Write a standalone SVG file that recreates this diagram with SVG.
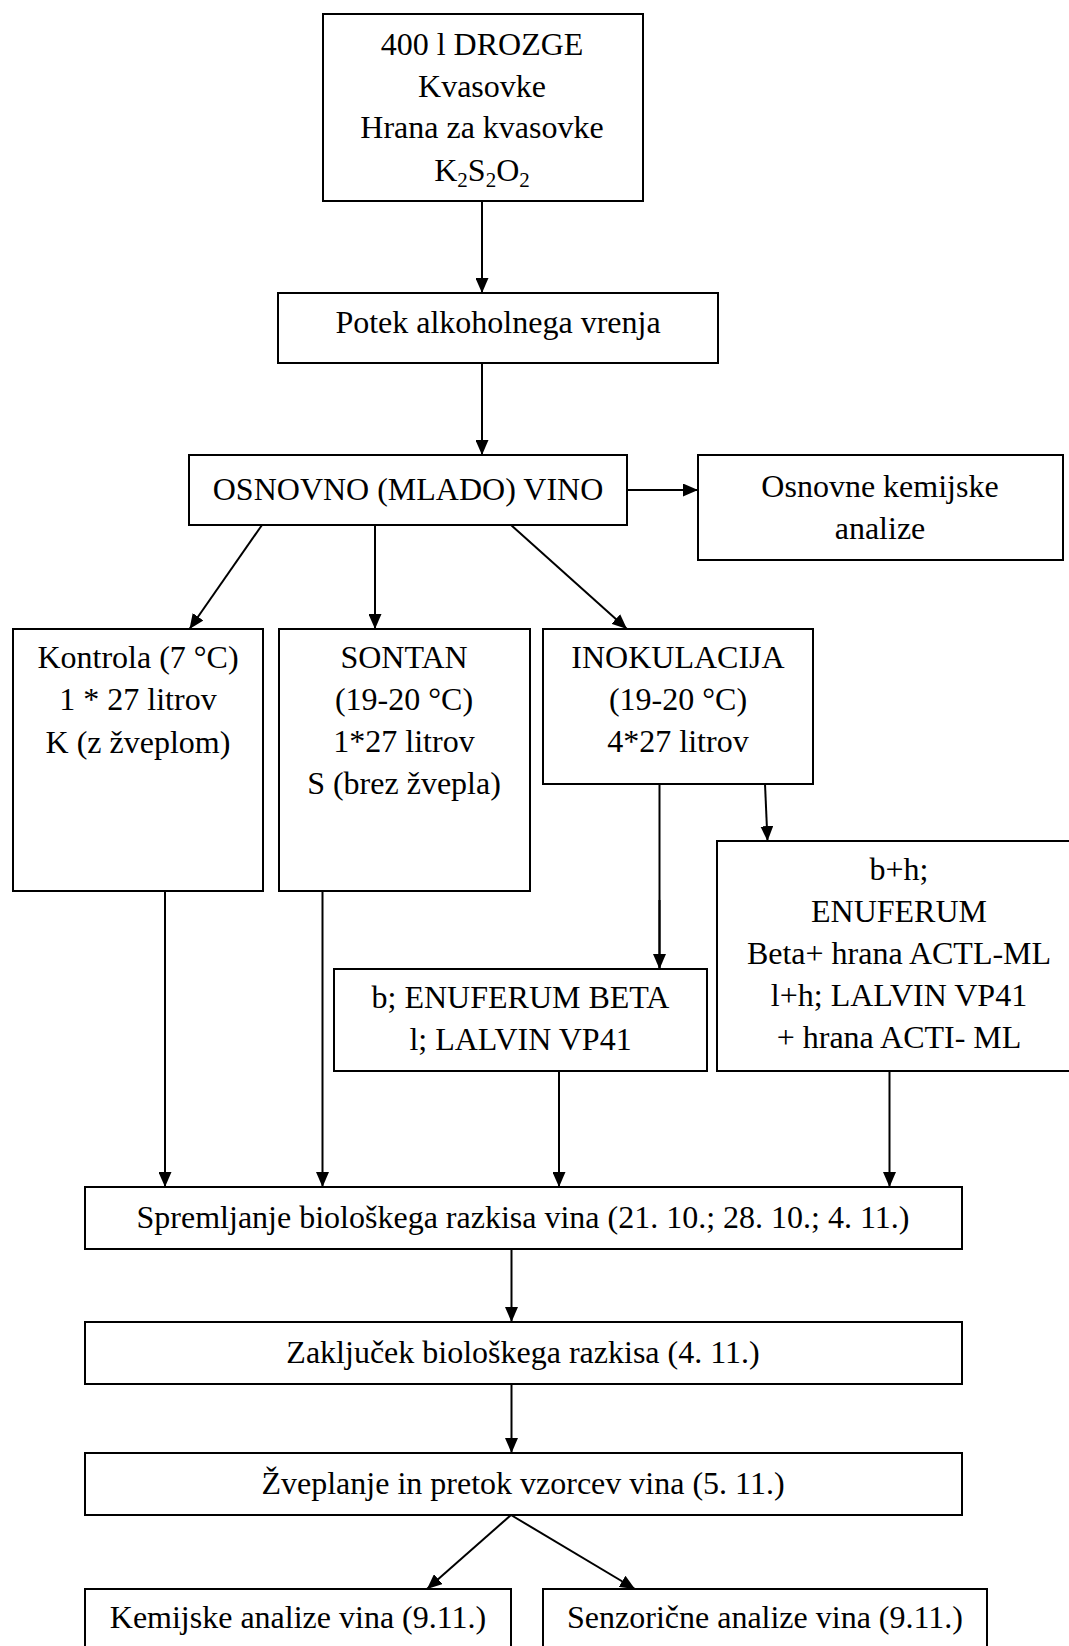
<svg xmlns="http://www.w3.org/2000/svg" width="1069" height="1646" viewBox="0 0 1069 1646">
<style>
  .box { fill: #ffffff; stroke: #000000; stroke-width: 2; }
  .t { font-family: "Liberation Serif", "Times New Roman", serif; font-size: 32px; fill: #000000; text-anchor: middle; }
  .c { fill: none; stroke: #000000; stroke-width: 2; marker-end: url(#ah); }
  .p { fill: none; stroke: #000000; stroke-width: 2; }
</style>
<defs>
  <marker id="ah" markerUnits="userSpaceOnUse" markerWidth="15" markerHeight="13" refX="15" refY="6.5" orient="auto">
    <path d="M0,0 L15,6.5 L0,13 z" fill="#000000"/>
  </marker>
</defs>
<rect width="1069" height="1646" fill="#ffffff"/>

<g id="connectors">
  <line class="c" x1="482" y1="201" x2="482" y2="293"/>
  <line class="c" x1="482" y1="363" x2="482" y2="455"/>
  <line class="c" x1="627" y1="490" x2="698" y2="490"/>
  <line class="c" x1="262" y1="525" x2="189.5" y2="629"/>
  <line class="c" x1="375" y1="525" x2="375" y2="629"/>
  <line class="c" x1="511" y1="525" x2="627" y2="629"/>
  <line class="p" x1="659.5" y1="784" x2="659.5" y2="969"/>
  <line class="c" x1="659.5" y1="900" x2="659.5" y2="969"/>
  <line class="c" x1="765" y1="784" x2="767.5" y2="841"/>
  <line class="c" x1="165" y1="891" x2="165" y2="1187"/>
  <line class="c" x1="322.5" y1="891" x2="322.5" y2="1187"/>
  <line class="c" x1="559" y1="1071" x2="559" y2="1187"/>
  <line class="c" x1="889.5" y1="1071" x2="889.5" y2="1187"/>
  <line class="c" x1="511.5" y1="1249" x2="511.5" y2="1322"/>
  <line class="c" x1="511.5" y1="1384" x2="511.5" y2="1453"/>
  <line class="c" x1="511" y1="1515" x2="427" y2="1589"/>
  <line class="c" x1="511" y1="1515" x2="635" y2="1589"/>
</g>

<g id="n-drozge">
  <rect class="box" x="323" y="14" width="320" height="187"/>
  <text class="t" x="482" y="55">400 l DROZGE</text>
  <text class="t" x="482" y="97">Kvasovke</text>
  <text class="t" x="482" y="138">Hrana za kvasovke</text>
  <text class="t" x="482" y="181">K<tspan font-size="21" dy="6">2</tspan><tspan dy="-6">S</tspan><tspan font-size="21" dy="6">2</tspan><tspan dy="-6">O</tspan><tspan font-size="21" dy="6">2</tspan></text>
</g>

<g id="n-potek">
  <rect class="box" x="278" y="293" width="440" height="70"/>
  <text class="t" x="498" y="333">Potek alkoholnega vrenja</text>
</g>

<g id="n-osnovno">
  <rect class="box" x="189" y="455" width="438" height="70"/>
  <text class="t" x="408" y="500">OSNOVNO (MLADO) VINO</text>
</g>

<g id="n-analize">
  <rect class="box" x="698" y="455" width="365" height="105"/>
  <text class="t" x="880" y="497">Osnovne kemijske</text>
  <text class="t" x="880" y="539">analize</text>
</g>

<g id="n-kontrola">
  <rect class="box" x="13" y="629" width="250" height="262"/>
  <text class="t" x="138" y="668">Kontrola (7 °C)</text>
  <text class="t" x="138" y="710">1 * 27 litrov</text>
  <text class="t" x="138" y="753">K (z žveplom)</text>
</g>

<g id="n-sontan">
  <rect class="box" x="279" y="629" width="251" height="262"/>
  <text class="t" x="404" y="668">SONTAN</text>
  <text class="t" x="404" y="710">(19-20 °C)</text>
  <text class="t" x="404" y="752">1*27 litrov</text>
  <text class="t" x="404" y="794">S (brez žvepla)</text>
</g>

<g id="n-inokulacija">
  <rect class="box" x="543" y="629" width="270" height="155"/>
  <text class="t" x="678" y="668">INOKULACIJA</text>
  <text class="t" x="678" y="710">(19-20 °C)</text>
  <text class="t" x="678" y="752">4*27 litrov</text>
</g>

<g id="n-bh">
  <rect class="box" x="717" y="841" width="364" height="230"/>
  <text class="t" x="899" y="880">b+h;</text>
  <text class="t" x="899" y="922">ENUFERUM</text>
  <text class="t" x="899" y="964">Beta+ hrana ACTL-ML</text>
  <text class="t" x="899" y="1006">l+h; LALVIN VP41</text>
  <text class="t" x="899" y="1048">+ hrana ACTI- ML</text>
</g>

<g id="n-b">
  <rect class="box" x="334" y="969" width="373" height="102"/>
  <text class="t" x="520.5" y="1008">b; ENUFERUM BETA</text>
  <text class="t" x="520.5" y="1050">l; LALVIN VP41</text>
</g>

<g id="n-spremljanje">
  <rect class="box" x="85" y="1187" width="877" height="62"/>
  <text class="t" x="523" y="1228">Spremljanje biološkega razkisa vina (21. 10.; 28. 10.; 4. 11.)</text>
</g>

<g id="n-zakljucek">
  <rect class="box" x="85" y="1322" width="877" height="62"/>
  <text class="t" x="523" y="1363">Zaključek biološkega razkisa (4. 11.)</text>
</g>

<g id="n-zveplanje">
  <rect class="box" x="85" y="1453" width="877" height="62"/>
  <text class="t" x="523" y="1494">Žveplanje in pretok vzorcev vina (5. 11.)</text>
</g>

<g id="n-kemijske">
  <rect class="box" x="85" y="1589" width="426" height="70"/>
  <text class="t" x="298" y="1628">Kemijske analize vina (9.11.)</text>
</g>

<g id="n-senzoricne">
  <rect class="box" x="543" y="1589" width="444" height="70"/>
  <text class="t" x="765" y="1628">Senzorične analize vina (9.11.)</text>
</g>
</svg>
